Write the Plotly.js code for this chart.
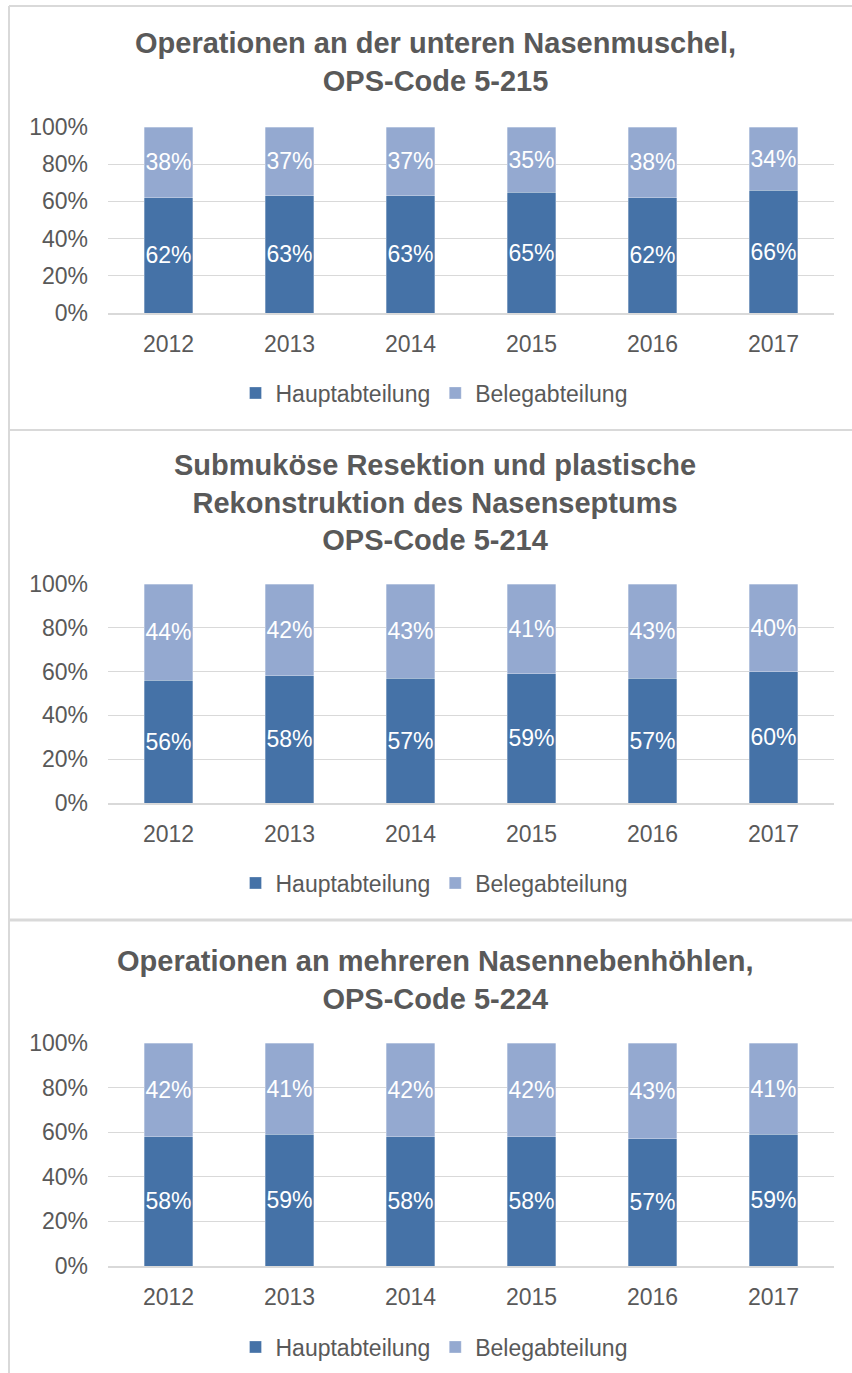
<!DOCTYPE html>
<html>
<head>
<meta charset="utf-8">
<script src="https://cdn.plot.ly/plotly-3.0.1.min.js"></script>
<style>html,body{margin:0;padding:0;background:#fff;}#chart{width:852px;height:1373px;}</style>
</head>
<body>
<div id="chart"></div>
<script>
// ---- data ----
const years = ["2012", "2013", "2014", "2015", "2016", "2017"];
const seriesNames = ["Hauptabteilung", "Belegabteilung"];
const titles = [
  "Operationen an der unteren Nasenmuschel,<br>OPS-Code 5-215",
  "Submuköse Resektion und plastische<br>Rekonstruktion des Nasenseptums<br>OPS-Code 5-214",
  "Operationen an mehreren Nasennebenhöhlen,<br>OPS-Code 5-224"
];
const haupt515 = [0.62, 0.63, 0.63, 0.65, 0.62, 0.66];
const beleg515 = [0.38, 0.37, 0.37, 0.35, 0.38, 0.34];
const haupt514 = [0.56, 0.58, 0.57, 0.59, 0.57, 0.60];
const beleg514 = [0.44, 0.42, 0.43, 0.41, 0.43, 0.40];
const haupt524 = [0.58, 0.59, 0.58, 0.58, 0.57, 0.59];
const beleg524 = [0.42, 0.41, 0.42, 0.42, 0.43, 0.41];

// ---- styling ----
const W = 852, H = 1373;
const FONT = "Liberation Sans, Arial, sans-serif";
const TXT = "#595959";
const GRID = "#d9d9d9";
const colors = ["#4572a7", "#94a9d0"];
const px = v => v / W;
const py = v => 1 - v / H;

const panels = [
  {h: haupt515, b: beleg515, top: 127, bottom: 313, titleY: 62, legY: 393},
  {h: haupt514, b: beleg514, top: 584, bottom: 803, titleY: 502, legY: 883},
  {h: haupt524, b: beleg524, top: 1043, bottom: 1266, titleY: 980, legY: 1347}
];

const traces = [];
const layout = {
  width: W, height: H,
  margin: {l: 0, r: 0, t: 0, b: 0},
  paper_bgcolor: "#fff", plot_bgcolor: "#fff",
  barmode: "stack", bargap: 0.6,
  font: {family: FONT, color: TXT, size: 23},
  annotations: [], shapes: []
};

panels.forEach((p, i) => {
  const n = i === 0 ? "" : String(i + 1);
  const xa = "x" + n, ya = "y" + n;
  const leg = "legend" + n;
  [p.h, p.b].forEach((vals, k) => {
    traces.push({
      type: "bar", x: years, y: vals, name: seriesNames[k],
      xaxis: xa, yaxis: ya, legend: leg,
      marker: {color: colors[k], line: {color: "rgba(255,255,255,0.5)", width: 0.6}},
      texttemplate: "%{y:.0%}", textposition: "inside", insidetextanchor: "middle",
      textangle: 0, constraintext: "none",
      textfont: {color: "#ffffff", size: 23, family: FONT},
      hoverinfo: "skip"
    });
  });
  layout["xaxis" + n] = {
    type: "category", domain: [px(108), px(834)], anchor: ya,
    showgrid: false, zeroline: false, showline: true, linecolor: GRID, linewidth: 1.5,
    ticks: "", ticklabelstandoff: 10,
    tickfont: {size: 23, color: TXT, family: FONT}, fixedrange: true
  };
  layout["yaxis" + n] = {
    domain: [py(p.bottom), py(p.top)], anchor: xa, range: [0, 1],
    tickvals: [0, 0.2, 0.4, 0.6, 0.8, 1], tickformat: ".0%",
    showgrid: true, gridcolor: GRID, gridwidth: 1.3, zeroline: false,
    ticks: "", ticklabelstandoff: 19,
    tickfont: {size: 23, color: TXT, family: FONT}, fixedrange: true
  };
  layout[leg] = {
    orientation: "h", x: px(434), xanchor: "center", y: py(p.legY), yanchor: "middle",
    font: {size: 23, color: TXT, family: FONT}, bgcolor: "rgba(0,0,0,0)",
    traceorder: "normal", itemclick: false, itemdoubleclick: false
  };
  layout.annotations.push({
    xref: "paper", yref: "paper", x: px(435), y: py(p.titleY),
    xanchor: "center", yanchor: "middle", showarrow: false,
    text: "<b>" + titles[i] + "</b>",
    font: {size: 29, color: TXT, family: FONT}
  });
});

// panel borders
const line = (x0, y0, x1, y1, w) => ({
  type: "line", xref: "paper", yref: "paper",
  x0: px(x0), y0: py(y0), x1: px(x1), y1: py(y1),
  line: {color: GRID, width: w}, layer: "below"
});
layout.shapes.push(line(9, 6, 9, H, 2));
layout.shapes.push(line(9, 6, W, 6, 2));
layout.shapes.push(line(9, 430, W, 430, 2));
layout.shapes.push(line(9, 920, W, 920, 3));

Plotly.newPlot("chart", traces, layout, {displayModeBar: false, staticPlot: true});
</script>
</body>
</html>
